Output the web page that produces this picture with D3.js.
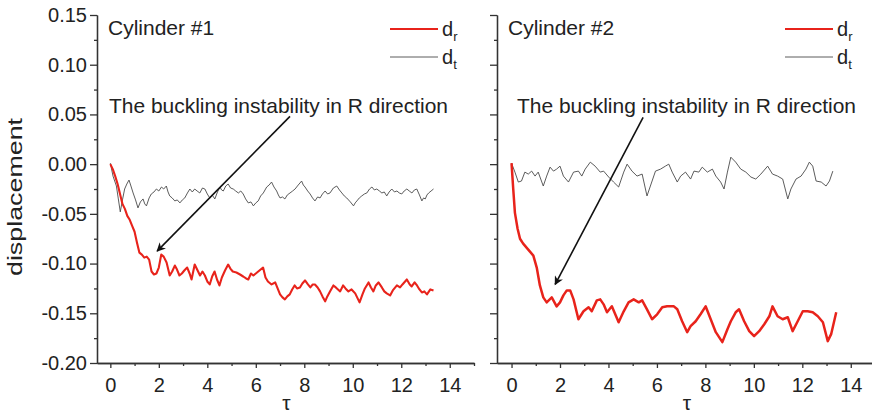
<!DOCTYPE html>
<html>
<head>
<meta charset="utf-8">
<script src="https://cdn.jsdelivr.net/npm/d3@7"></script>
<style>
  html, body { margin: 0; padding: 0; background: #fff; }
  svg { display: block; font-family: "Liberation Sans", Arial, sans-serif; }
</style>
</head>
<body>
<div id="d3chart"></div>
<script>
// Tick values
const xMajorTicks = [0, 2, 4, 6, 8, 10, 12, 14]
const xMinorTicks = [1, 3, 5, 7, 9, 11, 13, 15]
const yMajorTicks = [0.15, 0.10, 0.05, 0.00, -0.05, -0.10, -0.15, -0.20]
const yMinorTicks = [0.125, 0.075, 0.025, -0.025, -0.075, -0.125, -0.175]

// Cylinder #1 : [tau, displacement]
const dr1 = [[0, 0], [0.1, -0.005], [0.2, -0.012], [0.3, -0.02], [0.4, -0.03], [0.5, -0.04], [0.6, -0.045],
  [0.7, -0.052], [0.8, -0.056], [0.9, -0.062], [1.0, -0.068], [1.1, -0.079], [1.2, -0.089], [1.3, -0.091],
  [1.4, -0.094], [1.5, -0.093], [1.6, -0.096], [1.7, -0.108], [1.8, -0.111], [1.9, -0.11], [2.0, -0.104],
  [2.1, -0.091], [2.2, -0.093], [2.32, -0.099], [2.45, -0.112], [2.55, -0.108], [2.66, -0.102], [2.75, -0.106],
  [2.85, -0.112], [2.95, -0.11], [3.05, -0.107], [3.17, -0.104], [3.27, -0.11], [3.35, -0.116], [3.48, -0.101],
  [3.58, -0.106], [3.7, -0.112], [3.8, -0.108], [3.9, -0.112], [4.0, -0.118], [4.1, -0.121], [4.2, -0.113],
  [4.3, -0.108], [4.4, -0.116], [4.5, -0.122], [4.6, -0.114], [4.73, -0.107], [4.86, -0.101], [4.95, -0.105],
  [5.05, -0.108], [5.2, -0.109], [5.35, -0.111], [5.48, -0.113], [5.6, -0.115], [5.69, -0.116], [5.8, -0.11],
  [5.9, -0.112], [6.05, -0.109], [6.2, -0.106], [6.3, -0.104], [6.4, -0.114], [6.5, -0.118], [6.65, -0.121],
  [6.8, -0.119], [6.9, -0.125], [7.0, -0.131], [7.1, -0.134], [7.2, -0.136], [7.3, -0.133], [7.4, -0.131],
  [7.5, -0.126], [7.6, -0.122], [7.7, -0.125], [7.82, -0.124], [7.92, -0.12], [8.03, -0.117], [8.15, -0.121],
  [8.25, -0.124], [8.35, -0.121], [8.44, -0.121], [8.55, -0.124], [8.65, -0.128], [8.75, -0.133], [8.86, -0.138],
  [8.95, -0.133], [9.06, -0.128], [9.2, -0.122], [9.3, -0.124], [9.48, -0.128], [9.6, -0.122], [9.7, -0.125],
  [9.82, -0.128], [9.95, -0.126], [10.1, -0.13], [10.2, -0.135], [10.28, -0.139], [10.4, -0.131], [10.5, -0.125],
  [10.65, -0.119], [10.75, -0.124], [10.85, -0.128], [10.95, -0.122], [11.06, -0.119], [11.2, -0.124],
  [11.3, -0.128], [11.4, -0.13], [11.54, -0.132], [11.65, -0.127], [11.82, -0.122], [11.95, -0.124],
  [12.05, -0.121], [12.23, -0.116], [12.35, -0.121], [12.43, -0.123], [12.55, -0.119], [12.65, -0.122],
  [12.75, -0.126], [12.85, -0.129], [12.95, -0.128], [13.06, -0.131], [13.2, -0.126], [13.33, -0.127]]

const dt1 = [[0, 0.001], [0.11, -0.012], [0.25, -0.022], [0.33, -0.035], [0.41, -0.048], [0.5, -0.036],
  [0.59, -0.025], [0.68, -0.02], [0.77, -0.016], [0.85, -0.022], [0.94, -0.029], [1.04, -0.036], [1.14, -0.044],
  [1.24, -0.038], [1.35, -0.035], [1.42, -0.04], [1.49, -0.042], [1.6, -0.034], [1.69, -0.03], [1.8, -0.028],
  [1.9, -0.025], [2.0, -0.027], [2.11, -0.023], [2.2, -0.025], [2.31, -0.022], [2.38, -0.028], [2.45, -0.032],
  [2.55, -0.034], [2.66, -0.037], [2.76, -0.036], [2.87, -0.039], [2.97, -0.036], [3.07, -0.034], [3.18, -0.029],
  [3.28, -0.025], [3.38, -0.028], [3.48, -0.025], [3.58, -0.027], [3.69, -0.029], [3.8, -0.024], [3.9, -0.025],
  [4.0, -0.03], [4.1, -0.034], [4.2, -0.031], [4.31, -0.035], [4.42, -0.028], [4.52, -0.023], [4.59, -0.026],
  [4.66, -0.027], [4.76, -0.022], [4.86, -0.02], [4.96, -0.024], [5.07, -0.025], [5.17, -0.027], [5.28, -0.029],
  [5.38, -0.027], [5.48, -0.03], [5.58, -0.035], [5.69, -0.039], [5.8, -0.038], [5.9, -0.042], [6.0, -0.039],
  [6.1, -0.037], [6.2, -0.032], [6.31, -0.029], [6.38, -0.026], [6.45, -0.023], [6.55, -0.021], [6.65, -0.018],
  [6.75, -0.023], [6.86, -0.027], [6.93, -0.031], [7.0, -0.034], [7.1, -0.033], [7.2, -0.035], [7.3, -0.031],
  [7.41, -0.029], [7.52, -0.027], [7.62, -0.025], [7.75, -0.021], [7.89, -0.017], [7.96, -0.021], [8.03, -0.023],
  [8.14, -0.027], [8.24, -0.03], [8.34, -0.034], [8.44, -0.037], [8.55, -0.033], [8.65, -0.034], [8.75, -0.03],
  [8.86, -0.027], [8.96, -0.03], [9.06, -0.029], [9.2, -0.024], [9.34, -0.022], [9.45, -0.026], [9.55, -0.029],
  [9.65, -0.032], [9.75, -0.034], [9.9, -0.038], [10.03, -0.042], [10.1, -0.039], [10.17, -0.037],
  [10.27, -0.034], [10.37, -0.032], [10.48, -0.03], [10.58, -0.029], [10.69, -0.025], [10.79, -0.023],
  [10.89, -0.026], [10.99, -0.025], [11.1, -0.027], [11.2, -0.029], [11.3, -0.028], [11.4, -0.032],
  [11.5, -0.028], [11.61, -0.025], [11.72, -0.028], [11.82, -0.027], [11.92, -0.029], [12.02, -0.03],
  [12.12, -0.027], [12.23, -0.025], [12.33, -0.027], [12.44, -0.029], [12.54, -0.026], [12.64, -0.025],
  [12.75, -0.031], [12.85, -0.037], [12.92, -0.034], [12.99, -0.035], [13.06, -0.031], [13.13, -0.029],
  [13.23, -0.027], [13.33, -0.025]]

// Cylinder #2 : [tau, displacement]
const dr2 = [[0, 0.001], [0.07, -0.025], [0.14, -0.049], [0.25, -0.065], [0.35, -0.075], [0.48, -0.08],
  [0.69, -0.086], [0.9, -0.092], [1.04, -0.104], [1.17, -0.122], [1.31, -0.134], [1.45, -0.139], [1.66, -0.134],
  [1.86, -0.143], [2.0, -0.139], [2.14, -0.132], [2.28, -0.127], [2.42, -0.127], [2.56, -0.136], [2.76, -0.156],
  [2.97, -0.148], [3.18, -0.144], [3.31, -0.148], [3.52, -0.137], [3.66, -0.136], [3.8, -0.141], [3.94, -0.149],
  [4.14, -0.143], [4.42, -0.159], [4.63, -0.148], [4.83, -0.139], [5.04, -0.136], [5.25, -0.139], [5.39, -0.137],
  [5.59, -0.146], [5.8, -0.156], [6.01, -0.151], [6.22, -0.144], [6.42, -0.143], [6.7, -0.143], [6.84, -0.146],
  [7.04, -0.158], [7.25, -0.169], [7.39, -0.163], [7.6, -0.158], [7.8, -0.151], [8.01, -0.143], [8.22, -0.156],
  [8.43, -0.169], [8.7, -0.179], [8.91, -0.166], [9.05, -0.158], [9.25, -0.149], [9.39, -0.146], [9.6, -0.158],
  [9.81, -0.168], [10.01, -0.173], [10.22, -0.168], [10.43, -0.161], [10.64, -0.153], [10.77, -0.143],
  [10.98, -0.153], [11.19, -0.156], [11.4, -0.154], [11.6, -0.168], [11.81, -0.158], [12.02, -0.148],
  [12.22, -0.148], [12.43, -0.149], [12.64, -0.153], [12.85, -0.159], [13.05, -0.178], [13.19, -0.171],
  [13.4, -0.149]]

const dt2 = [[0, 0.001], [0.14, -0.008], [0.28, -0.018], [0.41, -0.017], [0.55, -0.008], [0.69, -0.01],
  [0.83, -0.007], [0.97, -0.012], [1.1, -0.008], [1.31, -0.022], [1.45, -0.012], [1.59, -0.003], [1.73, -0.007],
  [1.86, -0.005], [2.0, -0.002], [2.14, -0.012], [2.35, -0.018], [2.56, -0.008], [2.76, -0.007], [2.9, -0.012],
  [3.04, -0.005], [3.25, 0.002], [3.45, -0.002], [3.66, -0.008], [3.8, -0.007], [4.01, -0.013], [4.21, -0.018],
  [4.42, -0.023], [4.63, -0.008], [4.77, 0.0], [4.97, -0.007], [5.18, -0.012], [5.39, -0.01], [5.59, -0.032],
  [5.73, -0.022], [5.94, -0.007], [6.15, -0.005], [6.35, -0.002], [6.49, 0.0], [6.63, -0.008], [6.84, -0.018],
  [6.98, -0.012], [7.18, -0.008], [7.39, -0.015], [7.53, -0.007], [7.73, -0.008], [7.87, -0.003], [8.08, -0.008],
  [8.29, -0.005], [8.43, -0.012], [8.63, -0.018], [8.77, -0.025], [8.91, -0.008], [9.05, 0.007], [9.25, 0.002],
  [9.46, -0.005], [9.67, -0.008], [9.88, -0.013], [10.08, -0.015], [10.29, -0.01], [10.57, -0.002],
  [10.77, -0.01], [10.98, -0.012], [11.19, -0.015], [11.4, -0.035], [11.53, -0.025], [11.74, -0.015],
  [11.95, -0.012], [12.15, -0.005], [12.29, 0.002], [12.43, -0.002], [12.57, -0.017], [12.78, -0.018],
  [12.98, -0.022], [13.12, -0.017], [13.26, -0.007]]

// Arrow annotations in data coordinates: [from, to]
const arrow1 = [[7.41, 0.048], [1.93, -0.0875]]
const arrow2 = [[5.43, 0.047], [1.8, -0.121]]

const RED = '#e8231b'
const GRAY = '#4a4a4a'
const AXIS = '#333'

const width = 872
const height = 419
const yTop = 15
const yBottom = 363

const svg = d3.select('#d3chart')
  .append('svg')
  .attr('width', width)
  .attr('height', height)

svg.append('defs').append('marker')
  .attr('id', 'arrowhead')
  .attr('viewBox', '0 0 10 10')
  .attr('refX', 9)
  .attr('refY', 5)
  .attr('markerUnits', 'userSpaceOnUse')
  .attr('markerWidth', 11)
  .attr('markerHeight', 9)
  .attr('orient', 'auto')
  .append('path')
  .attr('d', 'M0,0 L10,5 L0,10 L3,5 Z')
  .attr('fill', '#111')

const yScale = d3.scaleLinear().domain([-0.20, 0.15]).range([yBottom, yTop])

const panels = [
  { title: 'Cylinder #1', left: 97, right: 474, domain: [-0.55, 15], labels: true, dr: dr1, dt: dt1, arrow: arrow1, legendX: 390, redW: 2.1 },
  { title: 'Cylinder #2', left: 497, right: 875, domain: [-0.6, 15], labels: false, dr: dr2, dt: dt2, arrow: arrow2, legendX: 785, redW: 2.5 }
]

panels.forEach(p => drawPanel(p))

// y axis title
svg.append('text')
  .attr('transform', 'translate(22,197) rotate(-90)')
  .attr('text-anchor', 'middle')
  .attr('font-size', 20)
  .attr('textLength', 158)
  .attr('lengthAdjust', 'spacingAndGlyphs')
  .attr('fill', '#222')
  .text('displacement')

function drawPanel (p) {
  const xScale = d3.scaleLinear().domain(p.domain).range([p.left, p.right])
  const g = svg.append('g')

  // axes: major + minor ticks
  const xAxis = d3.axisBottom(xScale).tickValues(xMajorTicks).tickSize(5).tickSizeOuter(0).tickPadding(10)
  const xMinor = d3.axisBottom(xScale).tickValues(xMinorTicks).tickSize(3).tickSizeOuter(0).tickFormat('')
  const yAxis = d3.axisLeft(yScale).tickValues(yMajorTicks).tickSize(7).tickSizeOuter(0).tickPadding(3)
    .tickFormat(d => p.labels ? d.toFixed(2) : '')
  const yMinor = d3.axisLeft(yScale).tickValues(yMinorTicks).tickSize(3).tickSizeOuter(0).tickFormat('')

  const axes = [
    g.append('g').attr('transform', `translate(0,${yBottom})`).call(xAxis),
    g.append('g').attr('transform', `translate(0,${yBottom})`).call(xMinor),
    g.append('g').attr('transform', `translate(${p.left},0)`).call(yAxis),
    g.append('g').attr('transform', `translate(${p.left},0)`).call(yMinor)
  ]
  axes.forEach(a => {
    a.selectAll('path, line').attr('stroke', AXIS).attr('stroke-width', 1.3)
    a.selectAll('text').attr('font-size', 20).attr('fill', '#222')
      .attr('font-family', '"Liberation Sans", Arial, sans-serif')
  })

  // data lines
  const line = d3.line().x(d => xScale(d[0])).y(d => yScale(d[1]))
  g.append('path').datum(p.dt).attr('d', line)
    .attr('fill', 'none').attr('stroke', GRAY).attr('stroke-width', 0.9).attr('stroke-linejoin', 'round')
  g.append('path').datum(p.dr).attr('d', line)
    .attr('fill', 'none').attr('stroke', RED).attr('stroke-width', p.redW).attr('stroke-linejoin', 'round')

  // title
  g.append('text')
    .attr('x', p.left + 11).attr('y', 35)
    .attr('font-size', 21).attr('fill', '#222')
    .text(p.title)

  // annotation
  g.append('text')
    .attr('x', p.left + (p.labels ? 12 : 20)).attr('y', 113)
    .attr('font-size', 21).attr('fill', '#222')
    .attr('textLength', 339).attr('lengthAdjust', 'spacingAndGlyphs')
    .text('The buckling instability in R direction')

  g.append('line')
    .attr('x1', xScale(p.arrow[0][0])).attr('y1', yScale(p.arrow[0][1]))
    .attr('x2', xScale(p.arrow[1][0])).attr('y2', yScale(p.arrow[1][1]))
    .attr('stroke', '#111').attr('stroke-width', 1.6)
    .attr('marker-end', 'url(#arrowhead)')

  // legend
  const legend = [
    { sub: 'r', color: RED, w: 2, y: 29 },
    { sub: 't', color: GRAY, w: 0.9, y: 57 }
  ]
  legend.forEach(l => {
    g.append('line')
      .attr('x1', p.legendX).attr('x2', p.legendX + 48)
      .attr('y1', l.y).attr('y2', l.y)
      .attr('stroke', l.color).attr('stroke-width', l.w)
    const t = g.append('text')
      .attr('x', p.legendX + 52).attr('y', l.y + 7)
      .attr('font-size', 20).attr('fill', '#222')
    t.append('tspan').text('d')
    t.append('tspan').attr('font-size', 13).attr('dy', 5).text(l.sub)
  })

  // x axis title
  g.append('text')
    .attr('x', (p.left + p.right) / 2 + 1).attr('y', 410)
    .attr('text-anchor', 'middle')
    .attr('font-size', 21).attr('fill', '#222')
    .text('τ')
}
</script>
</body>
</html>
